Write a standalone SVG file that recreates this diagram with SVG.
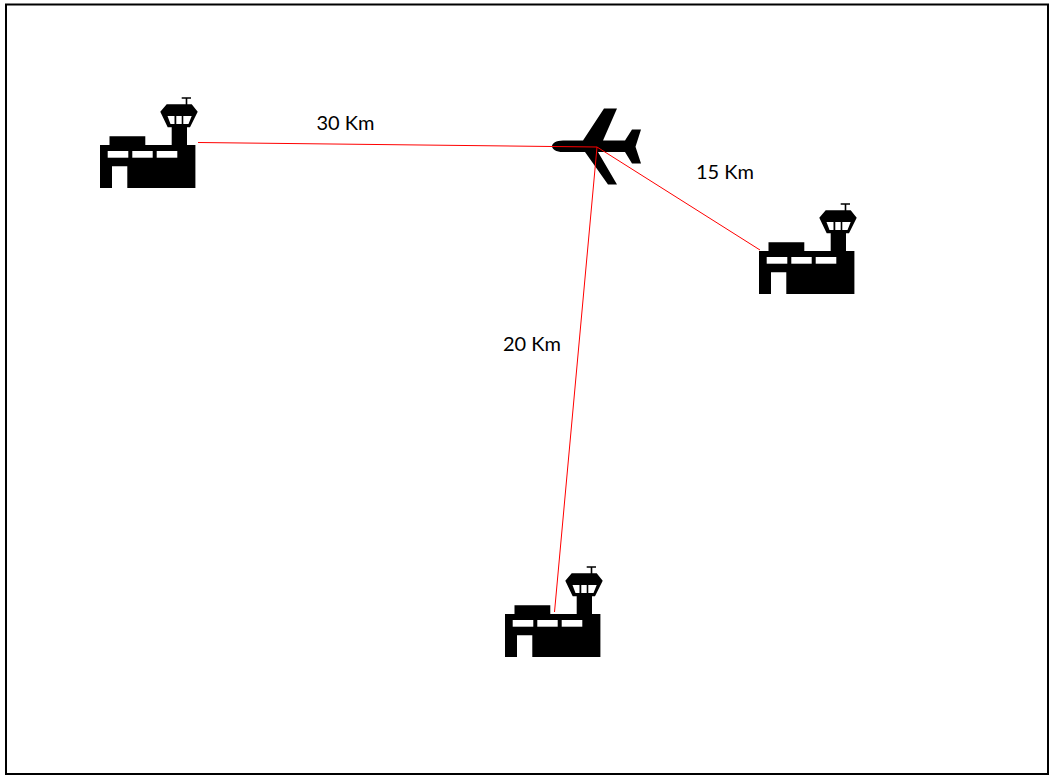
<svg xmlns="http://www.w3.org/2000/svg" xmlns:xlink="http://www.w3.org/1999/xlink" width="1050" height="777" viewBox="0 0 1050 777">
<style>
.frame{fill:#fff;stroke:#000;stroke-width:2}
.link{stroke:#f00;stroke-width:1;fill:none}
.ink{fill:#000}
.win{fill:#fff}
.lbl{font-family:Lato,"Open Sans","Liberation Sans",sans-serif;font-size:20px;fill:#000}
</style>
<defs>
<g id="airport">
<path class="ink" d="M100 188V145H109.500V136.300H145.300V145H171.700V127.300H167.700L160.300 111.700L166.700 104.300H185.700V98.700H181.700V97.300H191V98.700H187.300V104.300H191.700L197.700 111.700L190 127.300H187V145H195.400V188H127.300V166.300H112V188Z"/>
<path class="win" d="M167.500 116H174.500V124H170.500ZM176.300 116H181.700V124H176.300ZM183.300 116H191.700L188.500 124H183.300Z"/>
<rect class="win" x="107.700" y="151" width="20.600" height="6.700"/>
<rect class="win" x="132.300" y="151" width="20.400" height="6.700"/>
<rect class="win" x="156.700" y="151" width="20.600" height="6.700"/>
</g>
</defs>
<rect class="frame" x="6" y="4.500" width="1042" height="769.500"/>
<g id="airport-west"><use xlink:href="#airport" href="#airport"/></g>
<g id="airport-east"><use xlink:href="#airport" href="#airport" transform="translate(659 106)"/></g>
<g id="airport-south"><use xlink:href="#airport" href="#airport" transform="translate(405 469)"/></g>
<g id="plane">
<path class="ink" d="M604 108.500H617L603 140.500H625L632 129.500H641L635.500 146.700L641 163.500H632L625 152H598L617 184.500H608L585 152H563C556 152 552 149 552 146.200C552 143.400 556 140.500 563 140.500H583Z"/>
</g>
<g id="connectors">
<path class="link" d="M198 142.500L597 147"/>
<path class="link" d="M597 147L760 250"/>
<path class="link" d="M597 147L554.500 612"/>
</g>
<g id="labels">
<text class="lbl" x="316.500" y="129.500">30 Km</text>
<text class="lbl" x="696" y="178.500">15 Km</text>
<text class="lbl" x="503" y="351">20 Km</text>
</g>
</svg>
